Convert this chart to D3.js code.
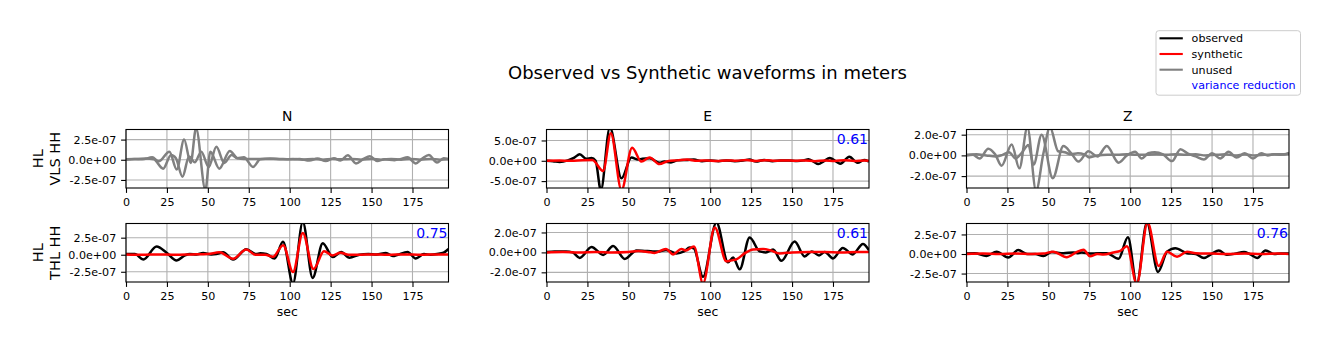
<!DOCTYPE html>
<html>
<head>
<meta charset="utf-8">
<script src="https://cdn.jsdelivr.net/npm/d3@7"></script>
<style>
  body { margin: 0; background: #fff; }
  text { font-family: "DejaVu Sans", sans-serif; }
</style>
</head>
<body>
<div id="chart"></div>
<script>
// amplitudes below are in units of 1e-7 m
const UNIT = 1e-7;
const components = ["N", "E", "Z"];
const stationLabels = [["HL", "VLS HH"], ["HL", "THL HH"]];
const xTicks = [0, 25, 50, 75, 100, 125, 150, 175];
const xMax = 197;
const yTicks = [
  [[-2.5, 0, 2.5], [-5, 0, 5], [-2, 0, 2]],
  [[-2.5, 0, 2.5], [-2, 0, 2], [-2.5, 0, 2.5]]
];
const yDomains = [
  [[-3.5, 3.75], [-6.7, 7.7], [-3.15, 2.5]],
  [[-4.0, 4.58], [-2.97, 2.9], [-3.58, 3.9]]
];
const varianceReduction = [[null, "0.61", null], ["0.75", "0.61", "0.76"]];
const used = [[false, true, false], [true, true, true]];

// waveforms: [sec, amplitude]
const vlsN_obs = [[0,0.05],[5,0.1],[10,0.05],[16,0.3],[20,-0.2],[26.5,1.0],[31,-1.2],[35.5,2.5],[39.5,-0.4],[42.8,3.9],[48.5,-3.7],[51.5,1.0],[57,-1.1],[63.4,1.1],[68,0.2],[72,0.1],[78,0.1],[84,0.1],[90,0.1],[96,0.05],[102,0.1],[108,0],[114,0.1],[120,0],[126,0.1],[132,0.05],[138,0.1],[144,0],[150,0.1],[156,0],[162,0.1],[168,0],[174,0.1],[180,0],[186,0.1],[192,0],[197,0.05]];
const vlsN_syn = [[0,0],[6,0.1],[12,0.15],[17,0.05],[22.7,-1.1],[27.5,0.6],[30.5,0.2],[34.5,-2.1],[38.5,0.4],[42,-0.3],[46,1.0],[50.5,-0.9],[55.2,1.6],[60,-0.4],[64.5,0.6],[68,0.2],[72,0.3],[77.6,-0.9],[82,0.05],[88,0.15],[94,0.1],[100,0.05],[106,0.1],[112,-0.1],[117,0.15],[122,-0.15],[127,0.2],[131,-0.1],[135.5,0.55],[140.5,-0.45],[145,0.1],[149,0.45],[153.5,-0.15],[158,0.05],[164,-0.05],[168,0.1],[172,0.3],[177,-0.45],[181,0.15],[185,0.6],[190,-0.35],[194,0.2],[197,0.1]];
const vlsE_obs = [[0,0],[4,-0.1],[8,-0.3],[13,0.1],[17,0.8],[20.3,1.6],[24.4,0.5],[27.5,0.7],[30,0],[33.2,-7.2],[38.7,8.2],[45.8,-4.3],[51.9,0.8],[56,0.3],[58.5,0.5],[63,0.6],[69,-0.5],[72,-0.2],[76,-0.4],[80,0.1],[86,0.2],[90,0.3],[95,-0.1],[100,0.1],[105,-0.1],[110,0.1],[115,-0.1],[120,0.05],[124,0.3],[128,-0.2],[133,0.2],[138,-0.1],[143,0.05],[148,0.1],[153,-0.05],[157,0.1],[160,0.4],[166,-0.8],[169.5,-0.1],[173,0.7],[179.5,-0.7],[185,1.0],[190,-0.5],[194,0.2],[197,-0.2]];
const vlsE_syn = [[0,0],[8,0.05],[15,0],[22,0.15],[28,0.2],[34.6,-2.5],[39.3,6.8],[45.8,-7.2],[52.3,3.2],[58,-0.2],[63,0.8],[69,-0.8],[74,-0.1],[80,0.1],[86,0.3],[92,0],[98,0.1],[104,-0.05],[110,0.1],[116,0],[122,0.2],[128,-0.05],[134,0.15],[140,0],[146,0.1],[152,0],[158,0.1],[164,-0.1],[170,0.1],[176,-0.05],[182,0.15],[188,-0.05],[194,0.1],[197,0]];
const vlsZ_obs = [[0,0],[4,0.05],[8,-0.3],[13.3,0.65],[17.5,0.1],[21.4,-1.0],[27.6,1.05],[32.3,-1.25],[37.2,2.7],[42.5,-3.4],[47,0.2],[51,2.7],[56,0.4],[60,0.3],[64,0.1],[68,0.2],[72,0.1],[75,-0.2],[80,0],[86,0.05],[92,0.05],[98,0.1],[104,0.05],[110,0.05],[116,0.1],[122,0.05],[128,0.1],[134,0.05],[140,0.1],[146,0],[152,0.05],[158,0.1],[164,0],[170,0.1],[176,0],[182,0.05],[188,0.1],[194,0.1],[197,0.25]];
const vlsZ_syn = [[0,0.05],[6,0.1],[12,0],[18,-0.1],[22,0.05],[26,0.3],[30,-0.3],[34,0.3],[37.8,1.0],[41,-0.9],[45.9,2.0],[52.7,-2.2],[59.2,0.9],[64,0.2],[68.4,-0.6],[74.5,0.4],[80,-0.1],[85.7,0.9],[92.9,-0.7],[98,0],[103,0.35],[107,-0.3],[111,0.2],[115,0.3],[120,0.1],[125.6,-0.55],[130.7,0.6],[135,0.2],[140,-0.1],[145,-0.4],[150,0.2],[155,-0.3],[160,0.35],[165,-0.2],[170,0.2],[175,-0.3],[180,0.2],[184,0],[188,0.1],[192,0.05],[197,0.15]];
const thlN_obs = [[0,0.1],[5.5,0.1],[10.6,-0.7],[18.7,1.2],[24.8,0.3],[30.9,-0.85],[36,-0.1],[39,0.1],[43,0.05],[47.1,0.25],[52,0.05],[55,0.1],[59.3,0.35],[65.4,-0.7],[73.5,0.8],[79.6,0.1],[82,0.2],[85.7,0.1],[90.8,-0.55],[95.9,1.9],[102,-4.2],[108,4.8],[114,-3.4],[120.2,1.7],[126.3,-0.35],[131.4,0.4],[136.5,-0.45],[142.6,0],[148,0.1],[153,0.05],[158.8,0.25],[163,-0.2],[166,0],[172,0.4],[177,-0.55],[182,0.1],[186,0],[190,0.1],[194,0.3],[197,0.85]];
const thlN_syn = [[0,0.05],[10,0],[20,0.05],[30,0],[40,0.05],[50,0.1],[57,0.35],[65.4,-0.6],[73.5,0.75],[79,0],[85,0],[89.8,-0.3],[96,1.4],[102,-2.55],[108,3.2],[114.5,-2.1],[121,0.5],[126,-0.1],[131,0.3],[136,0],[142,0],[150,0.05],[160,0],[170,0.05],[180,0],[190,0.05],[197,0.05]];
const thlE_obs = [[0,0.05],[5,0.1],[12,0.1],[16,0],[20.3,-0.55],[27.5,0.55],[34.6,-0.25],[40.7,0.65],[47.8,-0.65],[55,0.2],[60,0.15],[65,0.1],[69,0.1],[73,0.25],[79.4,-0.1],[84,0.1],[87.5,0.5],[90,0.4],[95.6,-2.45],[103.8,3.0],[110.9,-1.0],[114,-0.5],[118,-1.7],[124.1,1.5],[130.2,0.1],[134,0],[138.4,0.3],[143.5,-0.85],[151.6,1.1],[157.7,-0.4],[162,0.1],[166.5,-0.3],[170,0.05],[175,-0.6],[181,0.45],[187,-0.2],[193.3,0.85],[197,0.2]];
const thlE_syn = [[0,0],[10,0.05],[20,0],[30,0.05],[40,0],[50,0.05],[56,0.15],[62,0.05],[66,-0.05],[73,0.35],[77.3,-0.2],[82.4,0.35],[85,0.2],[90.1,0.6],[95.6,-3.1],[102.8,2.5],[109.9,-0.9],[113,-0.8],[116,-0.7],[121,-0.1],[126.2,0.3],[132.3,0.35],[137,0.2],[142.4,-0.1],[150,0],[160,0.05],[170,0.05],[180,0],[190,0.05],[197,0.05]];
const thlZ_obs = [[0,0.05],[5,0.1],[12.2,-0.25],[18.4,0.3],[25.5,-0.45],[31.6,0.5],[37,0],[42,0],[47,-0.25],[52,0.25],[59.2,0.1],[65.3,0.2],[68,0.1],[70.4,0.2],[76,0.05],[80,0.1],[85.7,0.1],[92.9,-0.6],[98.6,2.15],[104,-3.8],[110.2,4.0],[117,-2.3],[122.5,0.3],[127.6,0.75],[134.7,0.1],[140,0],[145,-0.5],[150,0.05],[154.1,0.45],[159,-0.1],[164,0.05],[169.5,0.25],[173,0],[177.6,-0.5],[182.7,0.45],[188,0],[192,0.05],[197,0.05]];
const thlZ_syn = [[0,0],[10,0.05],[20,0],[30,0.05],[40,0],[47,0.05],[53,0.3],[61.2,-0.4],[67,0.2],[71.5,0.55],[75.5,-0.3],[80,0],[83.7,-0.05],[89.8,0.2],[94,0.4],[98,1.0],[104,-3.8],[110.6,4.0],[117.4,-1.55],[122.5,0.3],[128.6,-0.35],[134.7,0.3],[140,0.1],[150,0.05],[160,0],[170,0.05],[180,0],[190,0.05],[197,0]];

const waveforms = [
  [[vlsN_obs, vlsN_syn], [vlsE_obs, vlsE_syn], [vlsZ_obs, vlsZ_syn]],
  [[thlN_obs, thlN_syn], [thlE_obs, thlE_syn], [thlZ_obs, thlZ_syn]]
];

// layout
const W = 1329, H = 351;
const lefts = [126, 546.5, 966.5];
const tops = [129.5, 223.5];
const pw = 322.5, ph = 58.5;
const lw = 2.5, thin = 1.1, tickLen = 4.9;

const svg = d3.select("#chart")
  .append("svg")
  .attr("width", W)
  .attr("height", H);

// matplotlib style exponent labels, e.g. 2.5e-07
function fmt(v) {
  const [m, e] = (v * UNIT).toExponential(1).split("e");
  return m + "e" + e[0] + e.slice(1).padStart(2, "0");
}

// title
svg.append("text")
  .attr("x", (lefts[0] + lefts[2] + pw) / 2)
  .attr("y", 79)
  .attr("text-anchor", "middle")
  .style("font-size", "18px")
  .text("Observed vs Synthetic waveforms in meters");

tops.forEach((top, r) => {
  lefts.forEach((left, c) => {
    const x = d3.scaleLinear().domain([0, xMax]).range([0, pw]);
    const y = d3.scaleLinear().domain(yDomains[r][c]).range([ph, 0]);
    const g = svg.append("g").attr("transform", `translate(${left},${top})`);

    // grid
    g.selectAll(".gx").data(xTicks).join("line")
      .attr("x1", d => x(d)).attr("x2", d => x(d))
      .attr("y1", 0).attr("y2", ph)
      .attr("stroke", "#b0b0b0").attr("stroke-width", thin);
    g.selectAll(".gy").data(yTicks[r][c]).join("line")
      .attr("class", "gy")
      .attr("x1", 0).attr("x2", pw)
      .attr("y1", d => y(d)).attr("y2", d => y(d))
      .attr("stroke", "#b0b0b0").attr("stroke-width", thin);

    // clip
    const clipId = `clip-${r}-${c}`;
    g.append("clipPath").attr("id", clipId)
      .append("rect").attr("width", pw).attr("height", ph);

    const line = d3.line()
      .x(d => x(d[0]))
      .y(d => y(d[1]))
      .curve(d3.curveMonotoneX);

    const colors = used[r][c] ? ["#000000", "#ff0000"] : ["#808080", "#808080"];
    waveforms[r][c].forEach((wf, i) => {
      g.append("path")
        .datum(wf)
        .attr("clip-path", `url(#${clipId})`)
        .attr("fill", "none")
        .attr("stroke", colors[i])
        .attr("stroke-width", lw)
        .attr("stroke-linejoin", "round")
        .attr("d", line);
    });

    // spines
    g.append("rect")
      .attr("width", pw).attr("height", ph)
      .attr("fill", "none")
      .attr("stroke", "#000").attr("stroke-width", thin);

    // axes
    const ax = g.append("g")
      .attr("transform", `translate(0,${ph})`)
      .call(d3.axisBottom(x).tickValues(xTicks).tickSize(tickLen).tickPadding(4.9));
    const ay = g.append("g")
      .call(d3.axisLeft(y).tickValues(yTicks[r][c]).tickSize(tickLen).tickPadding(4.9).tickFormat(fmt));
    [ax, ay].forEach(a => {
      a.select(".domain").remove();
      a.selectAll(".tick line").attr("stroke-width", thin);
      a.selectAll(".tick text")
        .style("font-size", "11.1px")
        .style("font-family", "DejaVu Sans, sans-serif")
        .attr("fill", "#000");
    });

    // component title on the top row
    if (r === 0) {
      g.append("text")
        .attr("x", pw / 2).attr("y", -8.3)
        .attr("text-anchor", "middle")
        .style("font-size", "13.9px")
        .text(components[c]);
    }

    // variance reduction
    if (varianceReduction[r][c]) {
      g.append("text")
        .attr("x", pw - 1).attr("y", 14.5)
        .attr("text-anchor", "end")
        .attr("fill", "#0000ff")
        .style("font-size", "14px")
        .text(varianceReduction[r][c]);
    }

    // station label
    if (c === 0) {
      const lab = g.append("text")
        .attr("transform", `translate(-66,${ph / 2}) rotate(-90)`)
        .attr("text-anchor", "middle")
        .style("font-size", "14.5px");
      lab.append("tspan").attr("x", 0).attr("y", -17).text(stationLabels[r][0]);
      lab.append("tspan").attr("x", 0).attr("y", 0).text(stationLabels[r][1]);
    }

    // x label on bottom row
    if (r === 1) {
      g.append("text")
        .attr("x", pw / 2).attr("y", ph + 33.8)
        .attr("text-anchor", "middle")
        .style("font-size", "12.5px")
        .text("sec");
    }
  });
});

// legend
const legendItems = [
  { label: "observed", color: "#000000", line: true },
  { label: "synthetic", color: "#ff0000", line: true },
  { label: "unused", color: "#808080", line: true },
  { label: "variance reduction", color: "#0000ff", line: false }
];
const legend = svg.append("g").attr("transform", "translate(1156,30.7)");
legend.append("rect")
  .attr("width", 144.5).attr("height", 64.5)
  .attr("rx", 2.8)
  .attr("fill", "#fff").attr("fill-opacity", 0.8)
  .attr("stroke", "#cccccc").attr("stroke-width", 1);
legendItems.forEach((d, i) => {
  const cy = 7.6 + i * 15.7;
  if (d.line) {
    legend.append("line")
      .attr("x1", 3.5).attr("x2", 26.8)
      .attr("y1", cy).attr("y2", cy)
      .attr("stroke", d.color).attr("stroke-width", 2.1);
  }
  legend.append("text")
    .attr("x", 35.6).attr("y", cy + 4)
    .attr("fill", d.line ? "#000" : d.color)
    .style("font-size", "11.1px")
    .text(d.label);
});
</script>
</body>
</html>
